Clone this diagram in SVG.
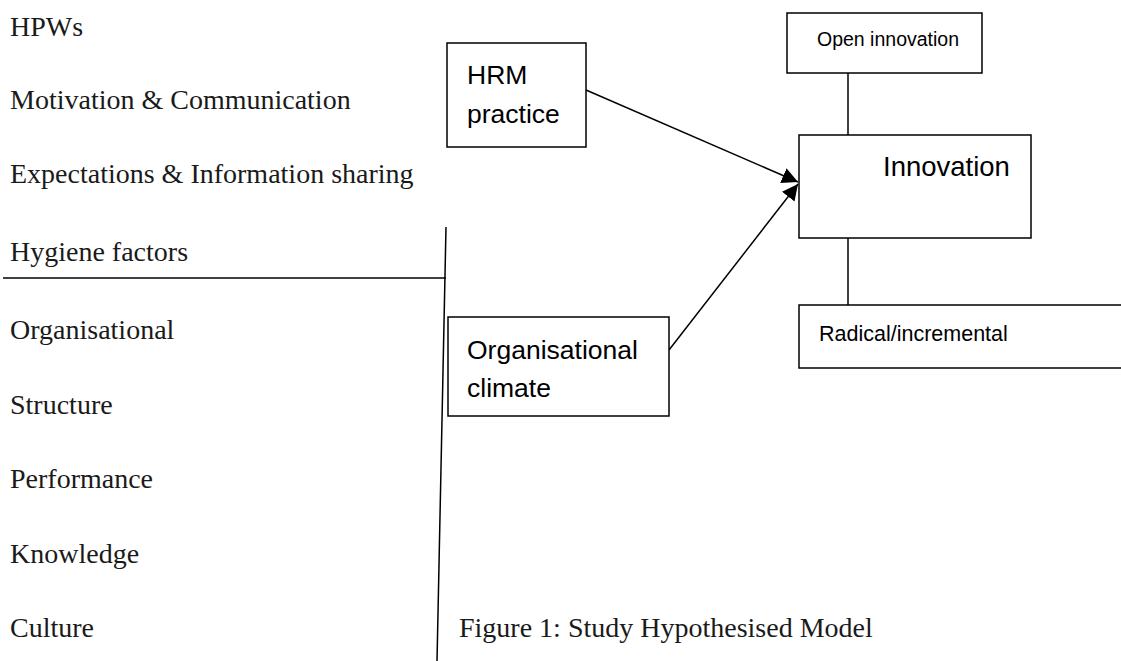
<svg xmlns="http://www.w3.org/2000/svg" width="1121" height="661" viewBox="0 0 1121 661">
<style>
.lt{font-family:"Liberation Serif","Times New Roman",serif;font-size:28px;fill:#1a1a1a}
.bx{fill:#fff;stroke:#000;stroke-width:1.5}
.st{font-family:"Liberation Sans",Arial,sans-serif;fill:#000}
.ln{stroke:#000;stroke-width:1.5;fill:none}
</style>
<defs>
<marker id="ah2" viewBox="0 0 10 10" refX="10" refY="5" markerWidth="16" markerHeight="16" markerUnits="userSpaceOnUse" orient="auto">
<path d="M0,0 L10,5 L0,10 z" fill="#000"/>
</marker>
</defs>
<rect width="1121" height="661" fill="#fff"/>
<g id="left-list">
<text class="lt" x="10" y="36">HPWs</text>
<text class="lt" x="10" y="109">Motivation &amp; Communication</text>
<text class="lt" x="10" y="183">Expectations &amp; Information sharing</text>
<text class="lt" x="10" y="261">Hygiene factors</text>
<text class="lt" x="10" y="339">Organisational</text>
<text class="lt" x="10" y="414">Structure</text>
<text class="lt" x="10" y="488">Performance</text>
<text class="lt" x="10" y="563">Knowledge</text>
<text class="lt" x="10" y="637">Culture</text>
<text class="lt" x="459" y="637">Figure 1: Study Hypothesised Model</text>
</g>
<g id="dividers">
<line class="ln" x1="3" y1="278" x2="446" y2="278"/>
<line class="ln" x1="446" y1="227" x2="437" y2="661"/>
</g>
<g id="connectors">
<line class="ln" x1="586" y1="90" x2="798" y2="182" marker-end="url(#ah2)"/>
<line class="ln" x1="669" y1="350" x2="798" y2="184" marker-end="url(#ah2)"/>
<line class="ln" x1="848" y1="73" x2="848" y2="135"/>
<line class="ln" x1="848" y1="238" x2="848" y2="305"/>
</g>
<g id="hrm">
<rect class="bx" x="447" y="43" width="139" height="104"/>
<text class="st" x="467" y="84" font-size="26.5">HRM</text>
<text class="st" x="467" y="123" font-size="26.5">practice</text>
</g>
<g id="climate">
<rect class="bx" x="448" y="317" width="221" height="99"/>
<text class="st" x="467" y="359" font-size="26.5">Organisational</text>
<text class="st" x="467" y="397" font-size="26.5">climate</text>
</g>
<g id="open">
<rect class="bx" x="787" y="13" width="195" height="60"/>
<text class="st" x="817" y="46" font-size="19.5">Open innovation</text>
</g>
<g id="innovation">
<rect class="bx" x="799" y="135" width="232" height="103"/>
<text class="st" x="883" y="176" font-size="27.5">Innovation</text>
</g>
<g id="radical">
<rect class="bx" x="799" y="305" width="330" height="63"/>
<text class="st" x="819" y="341" font-size="21.5">Radical/incremental</text>
</g>
</svg>
